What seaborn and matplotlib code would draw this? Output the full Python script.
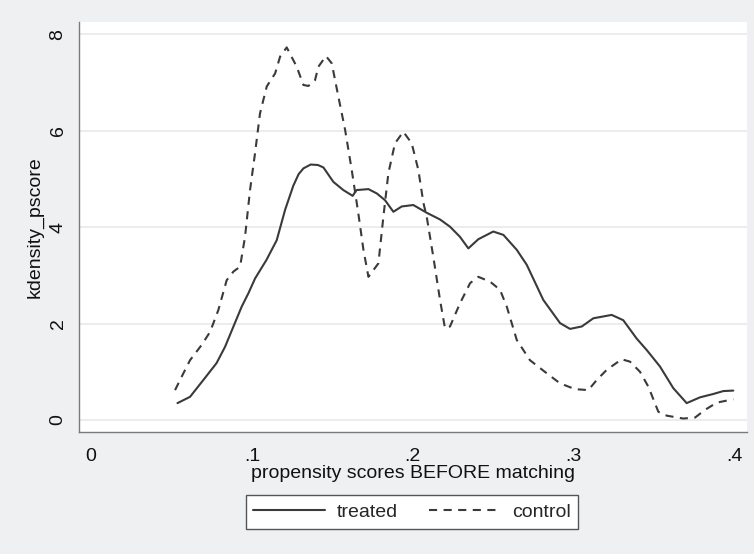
import matplotlib
matplotlib.use("Agg")
import matplotlib.pyplot as plt
import seaborn as sns
import pandas as pd
from matplotlib.lines import Line2D

# Kernel density estimates of the propensity score, before matching
treated_x = [0.0537, 0.0615, 0.0698, 0.078, 0.0833, 0.0885, 0.0936, 0.0978, 0.102, 0.109,
             0.1154, 0.1206, 0.1257, 0.1290, 0.132, 0.1365, 0.1410, 0.1444, 0.1506, 0.1568,
             0.1626, 0.165, 0.1724, 0.1776, 0.1827, 0.1879, 0.1931, 0.2003, 0.2086, 0.2169,
             0.2231, 0.2293, 0.2345, 0.2407, 0.25, 0.2563, 0.2646, 0.2708, 0.2811, 0.2915,
             0.2977, 0.305, 0.3122, 0.3236, 0.3308, 0.3391, 0.3454, 0.3536, 0.3619, 0.3702,
             0.3785, 0.3868, 0.393, 0.3992]
treated_y = [0.35, 0.48, 0.83, 1.18, 1.52, 1.94, 2.35, 2.63, 2.94, 3.32,
             3.73, 4.36, 4.86, 5.10, 5.22, 5.30, 5.29, 5.24, 4.94, 4.77,
             4.65, 4.77, 4.79, 4.70, 4.56, 4.32, 4.43, 4.46, 4.30, 4.16,
             4.01, 3.80, 3.56, 3.75, 3.91, 3.84, 3.53, 3.22, 2.49, 2.01,
             1.89, 1.94, 2.11, 2.18, 2.07, 1.69, 1.45, 1.11, 0.66, 0.35,
             0.47, 0.54, 0.60, 0.61]

control_x = [0.0522, 0.0574, 0.0615, 0.0688, 0.074, 0.0791, 0.0843, 0.0885, 0.0926, 0.0957,
             0.0988, 0.1019, 0.105, 0.1092, 0.1144, 0.1175, 0.1216, 0.1278, 0.132, 0.1351,
             0.1392, 0.1413, 0.146, 0.1496, 0.1537, 0.1579, 0.162, 0.1661, 0.1693, 0.1724,
             0.1786, 0.1817, 0.1848, 0.1889, 0.1941, 0.1993, 0.2034, 0.2066, 0.2086, 0.2127,
             0.2169, 0.22, 0.2231, 0.2293, 0.2356, 0.2407, 0.248, 0.2542, 0.2584, 0.2646,
             0.2728, 0.2832, 0.2915, 0.3008, 0.3091, 0.3143, 0.3205, 0.3298, 0.335, 0.3412,
             0.3464, 0.3526, 0.3578, 0.3681, 0.3754, 0.3816, 0.3889, 0.3992]
control_y = [0.62, 0.97, 1.24, 1.56, 1.83, 2.28, 2.90, 3.08, 3.18, 3.80,
             4.77, 5.53, 6.36, 6.92, 7.19, 7.54, 7.73, 7.33, 6.95, 6.93,
             7.05, 7.33, 7.55, 7.40, 6.71, 6.02, 5.19, 4.29, 3.53, 2.97,
             3.25, 4.22, 5.12, 5.74, 5.98, 5.74, 5.19, 4.50, 4.22, 3.39,
             2.49, 1.90, 1.94, 2.42, 2.84, 2.97, 2.87, 2.70, 2.35, 1.66,
             1.24, 0.97, 0.76, 0.64, 0.62, 0.83, 1.04, 1.26, 1.21, 1.00,
             0.69, 0.17, 0.09, 0.03, 0.05, 0.21, 0.36, 0.43]

x_ticks = [0, 0.1, 0.2, 0.3, 0.4]
x_tick_labels = ["0", ".1", ".2", ".3", ".4"]
y_ticks = [0, 2, 4, 6, 8]
y_tick_labels = ["0", "2", "4", "6", "8"]

sns.set_style("white")
plt.rcParams["font.family"] = ["Liberation Sans", "DejaVu Sans"]

bg = "#eff0f2"
ink = "#3a3a3a"
axis_gray = "#7a7a7a"
grid_gray = "#ebebeb"
lw = 1.5
dash = (0, (3.9, 3.1))

W, H = 754, 554
fig = plt.figure(figsize=(W / 100, H / 100), dpi=100, facecolor=bg)
left, right, top, bottom = 79, 747, 22, 431.7
ax = fig.add_axes([left / W, 1 - bottom / H, (right - left) / W, (bottom - top) / H])
ax.set_facecolor("white")

df_t = pd.DataFrame({"pscore": treated_x, "density": treated_y})
df_c = pd.DataFrame({"pscore": control_x, "density": control_y})

for yv in y_ticks:
    ax.axhline(yv, color=grid_gray, lw=1.3, zorder=0)

sns.lineplot(data=df_t, x="pscore", y="density", ax=ax, color=ink, lw=lw,
             estimator=None, sort=True)
sns.lineplot(data=df_c, x="pscore", y="density", ax=ax, color=ink, lw=lw,
             estimator=None, sort=True, linestyle=dash)

ax.set_xlim(-0.0075, 0.4077)
ax.set_ylim(-0.243, 8.257)
ax.set_xticks(x_ticks)
ax.set_xticklabels(x_tick_labels)
ax.set_yticks(y_ticks)
ax.set_yticklabels(y_tick_labels, rotation=90, va="center")
ax.set_xlabel("")
ax.set_ylabel("")

for side in ["top", "right"]:
    ax.spines[side].set_visible(False)
for side in ["left", "bottom"]:
    ax.spines[side].set_color(axis_gray)
    ax.spines[side].set_linewidth(1.0)

ax.tick_params(axis="both", which="major", direction="out", length=5.5, width=1.0,
               color=axis_gray, labelsize=14, labelcolor="#111111")
ax.tick_params(axis="x", pad=6)
ax.tick_params(axis="y", pad=3.5)
ax.grid(False)

fig.text(413 / W, 1 - 478 / H, "propensity scores BEFORE matching",
         ha="center", va="baseline", fontsize=14, color="#111111")
fig.text(39.5 / W, 1 - 227 / H, "kdensity_pscore", rotation=90,
         rotation_mode="anchor", ha="center", va="baseline", fontsize=14, color="#111111")

handles = [Line2D([], [], color=ink, lw=lw),
           Line2D([], [], color=ink, lw=lw, linestyle=dash)]
leg = fig.legend(handles, ["treated", "control"], loc="center",
                 bbox_to_anchor=(412 / W, 1 - 512 / H), ncol=2, fontsize=14,
                 frameon=True, fancybox=False, handlelength=3.7, handletextpad=0.57,
                 columnspacing=1.6, borderpad=0.4)
frame = leg.get_frame()
frame.set_edgecolor("#555555")
frame.set_linewidth(1.0)
frame.set_facecolor("white")
frame.set_alpha(1)

fig.savefig("out.png", dpi=100, facecolor=bg)
